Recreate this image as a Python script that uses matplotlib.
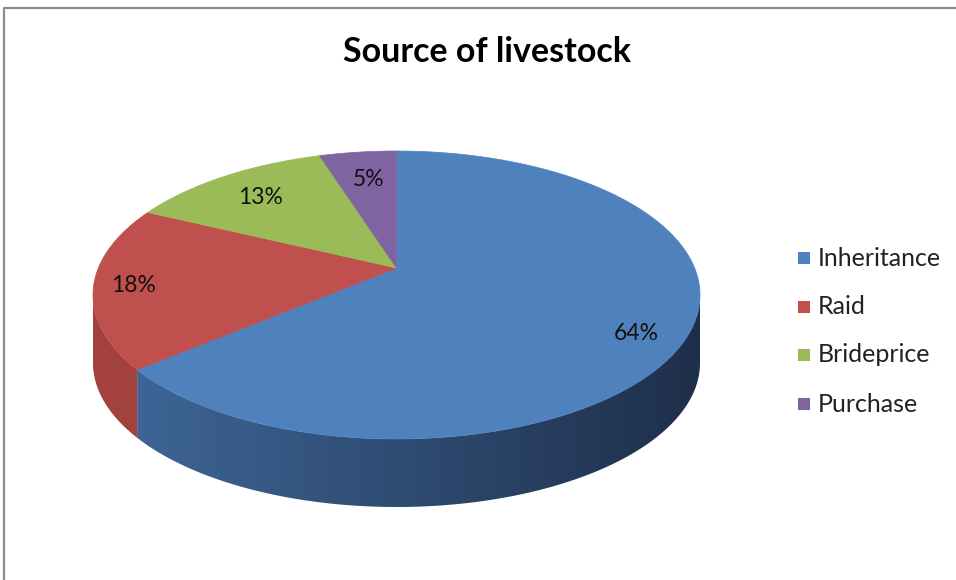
import numpy as np
import matplotlib
matplotlib.use("Agg")
import matplotlib.pyplot as plt
from matplotlib.patches import Polygon, Rectangle
from matplotlib.colors import LinearSegmentedColormap

# ---- data ----
title = "Source of livestock"
categories = ["Inheritance", "Raid", "Brideprice", "Purchase"]
values = [64, 18, 13, 5]
labels = ["64%", "18%", "13%", "5%"]

# ---- style ----
top_colors = ["#4F81BD", "#C0504D", "#9BBB59", "#8064A2"]
side_left = ["#40699C", "#A4423F", "#7E9A47", "#66508A"]
side_right = ["#1E2F4A", "#8E3836", "#6B833C", "#564377"]
FONT = "Lato"

W, H = 956, 580
fig = plt.figure(figsize=(W / 100, H / 100), dpi=100)
ax = fig.add_axes([0, 0, 1, 1])
ax.set_xlim(0, W)
ax.set_ylim(H, 0)
ax.axis("off")

# border (top and left)
ax.plot([4.5, 4.5, W], [H, 7.5, 7.5], color="#8c8c8c", lw=1.6, solid_capstyle="butt")

# pie geometry (pixel units, y down)
cx, cy, rx, ry = 396.5, 295.0, 303.5, 144.0
vx, vy = 396.5, 268.0
depth = 68.0
vyn = (vy - cy) / ry


def edge_phi(theta):
    d = np.array([np.sin(theta), -np.cos(theta)])
    p0 = np.array([0.0, vyn])
    b = p0 @ d
    c = p0 @ p0 - 1
    t = -b + np.sqrt(b * b - c)
    p = p0 + t * d
    return np.arctan2(p[1], p[0])


def arc(p1, p2, n=200):
    ph = np.linspace(p1, p2, n)
    return np.column_stack([cx + rx * np.cos(ph), cy + ry * np.sin(ph)])


total = sum(values)
cum = np.concatenate([[0], np.cumsum(values)]) / total * 2 * np.pi
phis = list(np.unwrap([edge_phi(t) for t in cum]))
for i in range(1, len(phis)):
    while phis[i] < phis[i - 1]:
        phis[i] += 2 * np.pi

# sides (front half: phi in [0, pi] mod 2pi)
for i in range(len(values)):
    a, b = phis[i], phis[i + 1]
    for k in range(-1, 3):
        lo = max(a, k * 2 * np.pi)
        hi = min(b, k * 2 * np.pi + np.pi)
        if hi > lo:
            top = arc(lo, hi)
            bot = top + np.array([0, depth])
            pts = np.vstack([top, bot[::-1]])
            poly = Polygon(pts, closed=True, facecolor="none", edgecolor="none")
            ax.add_patch(poly)
            cmap = LinearSegmentedColormap.from_list("g", [side_left[i], side_right[i]])
            grad = np.linspace(0, 1, 256).reshape(1, -1)
            x0, x1 = cx - rx, cx + rx
            im = ax.imshow(grad, cmap=cmap, extent=[x0, x1, cy + ry + depth + 5, cy - 5],
                           aspect="auto", interpolation="bilinear", zorder=1)
            im.set_clip_path(poly)

# top faces
for i in range(len(values)):
    pts = np.vstack([[vx, vy], arc(phis[i], phis[i + 1])])
    ax.add_patch(Polygon(pts, closed=True, facecolor=top_colors[i],
                         edgecolor=top_colors[i], lw=0.5, zorder=2))

# data labels
label_pos = [(636, 333), (134, 286), (261, 197), (369, 180)]
for (x, y), t in zip(label_pos, labels):
    ax.text(x, y, t, ha="center", va="center", fontsize=16.5, family=FONT,
            color="#111111", zorder=3)

# title
ax.text(487, 52, title, ha="center", va="center", fontsize=24.5, family=FONT,
        weight="bold", color="#000000")

# legend
leg_y = [258, 307, 355, 404]
for i, (cat, y) in enumerate(zip(categories, leg_y)):
    ax.add_patch(Rectangle((798, y - 6), 12, 12, facecolor=top_colors[i],
                           edgecolor="none"))
    ax.text(818, y, cat, ha="left", va="center", fontsize=18, family=FONT,
            color="#222222")

fig.savefig("out.png", dpi=100)
